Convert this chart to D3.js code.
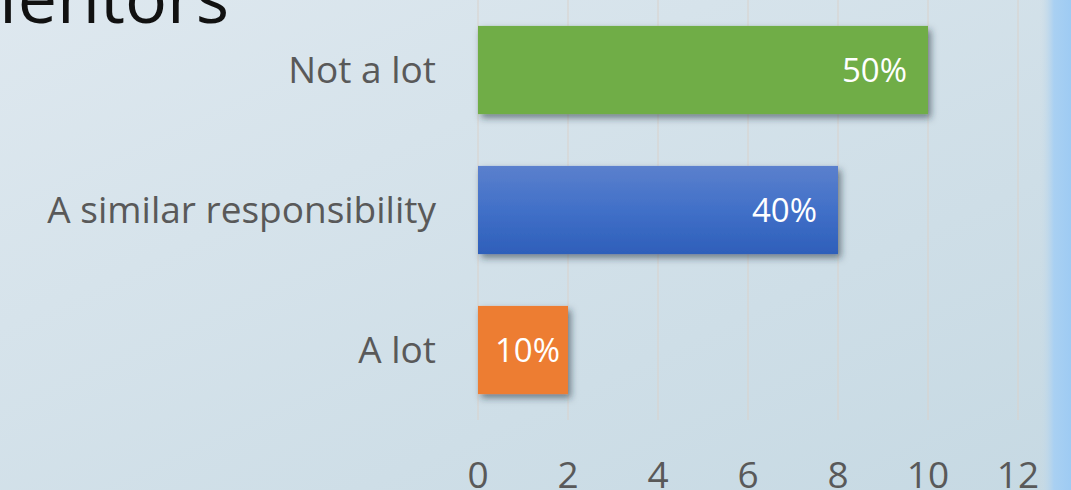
<!DOCTYPE html>
<meta charset="utf-8">
<head>
    <title></title>
    <script src="https://cdnjs.cloudflare.com/ajax/libs/d3/7.8.5/d3.min.js"></script>
</head>
<style>
    body{ margin:0; overflow:hidden; }
    text{ font-family: "Open Sans", sans-serif; }
</style>
<svg width="1071" height="490"></svg>

<script>
    var categories = ['Not a lot', 'A similar responsibility', 'A lot'],
        values = [10, 8, 2],
        labels = ['50%', '40%', '10%'],
        ticks = [0, 2, 4, 6, 8, 10, 12],
        colors = ['#70ad47', 'url(#blueGrad)', '#ed7d31'];

    var width = 1071,
        height = 490,
        plotH = 420;

    var svg = d3.select('svg');
    var defs = svg.append('defs');

    // background
    var bg = defs.append('linearGradient').attr('id','bgGrad')
        .attr('x1',0).attr('y1',0).attr('x2',1).attr('y2',1);
    bg.append('stop').attr('offset','0%').attr('stop-color','#dee8ef');
    bg.append('stop').attr('offset','100%').attr('stop-color','#c6d9e3');

    var side = defs.append('linearGradient').attr('id','sideGrad')
        .attr('x1',0).attr('y1',0).attr('x2',1).attr('y2',0);
    side.append('stop').attr('offset','0%').attr('stop-color','#c9dbe6').attr('stop-opacity',0);
    side.append('stop').attr('offset','45%').attr('stop-color','#a9d0f2');
    side.append('stop').attr('offset','100%').attr('stop-color','#9ecbf3');

    var blue = defs.append('linearGradient').attr('id','blueGrad')
        .attr('x1',0).attr('y1',0).attr('x2',0).attr('y2',1);
    blue.append('stop').attr('offset','0%').attr('stop-color','#5b80cd');
    blue.append('stop').attr('offset','50%').attr('stop-color','#4170c8');
    blue.append('stop').attr('offset','100%').attr('stop-color','#2e5fba');

    var shadow = defs.append('filter').attr('id','shadow')
        .attr('x','-10%').attr('y','-10%').attr('width','130%').attr('height','140%');
    shadow.append('feDropShadow').attr('dx',3).attr('dy',4).attr('stdDeviation',3.5)
        .attr('flood-color','#1f2d3a').attr('flood-opacity',0.55);

    svg.append('rect').attr('width',width).attr('height',height).style('fill','url(#bgGrad)');
    svg.append('rect').attr('x',1040).attr('width',31).attr('height',height).style('fill','url(#sideGrad)');

    // title, cut off at the top like the slide
    svg.append('text').text('Mentors')
        .attr('x',229).attr('y',23)
        .attr('text-anchor','end')
        .style('font-size','70px')
        .style('fill','#111');

    var x = d3.scaleLinear().domain([0,12]).range([478, 1018]);

    var y = d3.scaleBand().domain(categories).range([0, plotH])
        .paddingInner(0.37).paddingOuter(0.185);

    var g = svg.append('g');

    // gridlines
    g.selectAll('line.grid').data(ticks).enter().append('line')
        .attr('class','grid')
        .attr('x1', function(d){ return x(d); })
        .attr('x2', function(d){ return x(d); })
        .attr('y1', 0)
        .attr('y2', plotH)
        .style('stroke','#d9d2cc')
        .style('stroke-width',1);

    // tick labels
    g.selectAll('text.tick').data(ticks).enter().append('text')
        .attr('class','tick')
        .text(function(d){ return d; })
        .attr('x', function(d){ return x(d); })
        .attr('y', 488)
        .attr('text-anchor','middle')
        .style('font-size','37px')
        .style('fill','#595959');

    // category labels
    g.selectAll('text.cat').data(categories).enter().append('text')
        .attr('class','cat')
        .text(function(d){ return d; })
        .attr('x', 436)
        .attr('y', function(d){ return y(d) + y.bandwidth()/2; })
        .attr('dy','0.36em')
        .attr('text-anchor','end')
        .style('font-size','37px')
        .style('fill','#595959');

    // bars
    g.selectAll('rect.bar').data(values).enter().append('rect')
        .attr('class','bar')
        .attr('x', x(0))
        .attr('y', function(d,i){ return y(categories[i]); })
        .attr('width', function(d){ return x(d) - x(0); })
        .attr('height', y.bandwidth())
        .style('fill', function(d,i){ return colors[i]; })
        .attr('filter','url(#shadow)');

    // value labels
    g.selectAll('text.val').data(values).enter().append('text')
        .attr('class','val')
        .text(function(d,i){ return labels[i]; })
        .attr('x', function(d){ return (x(d) - x(0) > 150) ? x(d) - 21 : x(d) - 8; })
        .attr('y', function(d,i){ return y(categories[i]) + y.bandwidth()/2; })
        .attr('dy','0.36em')
        .attr('text-anchor','end')
        .style('font-size','33px')
        .style('fill','#fff');
</script>
